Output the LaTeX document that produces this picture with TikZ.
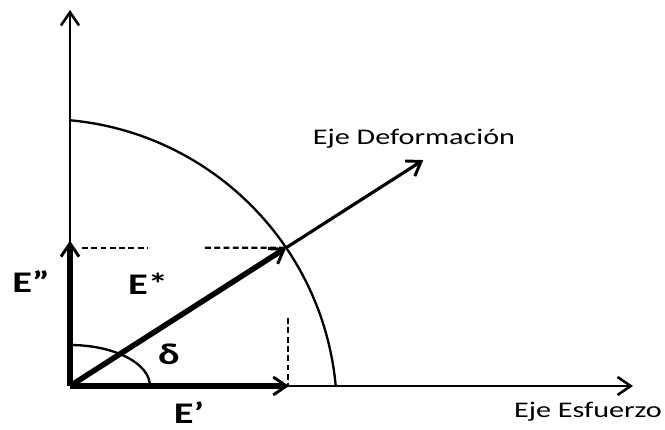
\documentclass[tikz,border=0pt]{standalone}
\usepackage{fontspec}
\newfontfamily\lblfont[FakeStretch=1.35]{Carlito}
\usepackage{tikz}
\usetikzlibrary{arrows.meta, calc}

\tikzset{
    axisline/.style={-{Straight Barb[length=2.2mm, width=3mm, line width=1.2pt]}, line width=1.2pt},
    vecarrow/.style={-{Straight Barb[length=2.2mm, width=3mm, line width=1.4pt]}, line width=2.6pt},
    deformarrow/.style={-{Straight Barb[length=2.2mm, width=3mm, line width=1.4pt]}, line width=1.5pt},
    circarc/.style={line width=1.1pt},
    guide/.style={line width=1.1pt, dash pattern=on 2.8pt off 1.6pt},
    axislabel/.style={font=\lblfont\fontsize{10.6}{12}\selectfont, anchor=base, inner sep=0pt},
    veclabel/.style={font=\lblfont\bfseries\fontsize{14.2}{16}\selectfont, anchor=base, inner sep=0pt},
}

\begin{document}
\begin{tikzpicture}
    \useasboundingbox (-1.1667,-0.7333) rectangle (9.9167,6.4333);
    \coordinate (O) at (0,0);
    \coordinate (ytip) at (0,6.267);
    \coordinate (xtip) at (9.383,0);
    \coordinate (C) at (-0.45,-0.45);
    \coordinate (P) at (32.6:4.277);
    \coordinate (dtip) at (32.6:6.99);
    \coordinate (Ex) at (3.65,0);
    \coordinate (Ey) at (0,2.42);

    % ejes
    \draw[axisline] (O) -- (ytip);
    \draw[axisline] (O) -- (xtip);

    % arco grande y angulo
    \draw[circarc] (C) ++(84.73:4.9) arc[start angle=84.73, end angle=5.27, radius=4.9];
    \draw[circarc] (1.333,0) arc[start angle=0, end angle=90, x radius=1.333, y radius=0.683];

    % proyecciones
    \draw[guide] (0.2,2.304) -- (1.3,2.304);
    \draw[guide] (2.25,2.304) -- (P);
    \draw[guide] (3.63,1.13) -- (3.63,0);

    % vectores
    \draw[deformarrow] (P) -- (dtip);
    \draw[vecarrow] (O) -- (P);
    \draw[vecarrow] (O) -- (Ex);
    \draw[vecarrow] (O) -- (Ey);

    \node[axislabel] (deform) at (5.733,4.03) {Eje Deformación};
    \node[axislabel] (esfuerzo) at (8.633,-0.533) {Eje Esfuerzo};
    \node[veclabel] (Estar) at (1.3,1.517) {E*};
    \node[veclabel] (Epp) at (-0.65,1.55) {E”};
    \node[veclabel] (Ep) at (1.983,-0.617) {E’};
    \node[veclabel] (delta) at (1.65,0.35) {δ};
\end{tikzpicture}
\end{document}
